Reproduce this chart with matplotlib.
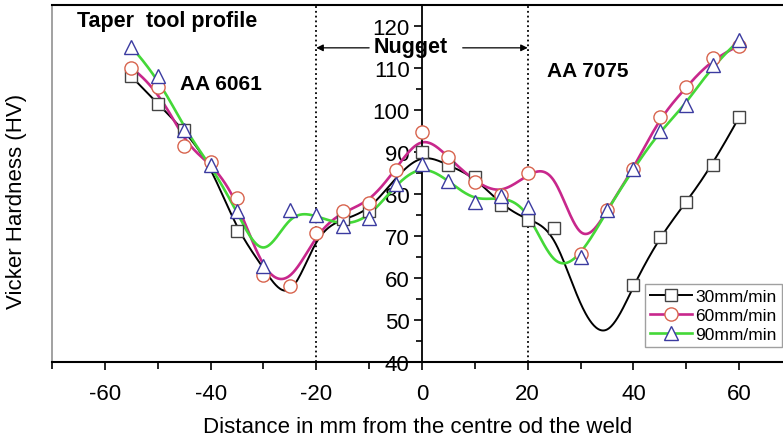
import numpy as np
import matplotlib
matplotlib.use("Agg")
import matplotlib.pyplot as plt
from matplotlib.lines import Line2D

plt.rcParams['font.family'] = ['Liberation Sans', 'DejaVu Sans']

# ---- data ----
distance = [-55, -50, -45, -40, -35, -30, -25, -20, -15, -10, -5, 0,
            5, 10, 15, 20, 25, 30, 35, 40, 45, 50, 55, 60]
hv_30 = [108.0, 101.5, 95.3, 87.0, 71.2, 62.5, 52.6, 71.0, 74.0, 75.9, 84.0, 89.9,
         86.8, 84.1, 77.3, 73.8, 71.8, 52.0, 44.0, 58.4, 69.8, 78.1, 86.9, 98.3]
hv_60 = [110.0, 105.4, 91.5, 87.6, 79.0, 60.7, 58.0, 70.8, 75.9, 77.9, 85.8, 94.8,
         88.7, 82.9, 79.7, 84.9, 87.0, 65.7, 76.1, 86.0, 98.3, 105.4, 112.4, 115.3]
hv_90 = [115.0, 108.0, 95.3, 86.9, 75.9, 62.9, 76.1, 74.9, 72.4, 74.2, 82.3, 87.2,
         83.2, 78.1, 79.5, 77.0, 61.3, 64.9, 76.1, 86.0, 95.0, 101.3, 110.7, 116.6]
# points whose symbols are not shown in the original figure
hidden_30 = [-40, -30, -25, -20, -5, 30, 35]
hidden_60 = [25]
hidden_90 = [25]
labels = ['30mm/min', '60mm/min', '90mm/min']
x_ticks = [-60, -40, -20, 0, 20, 40, 60]
y_ticks = [40, 50, 60, 70, 80, 90, 100, 110, 120]


def bspline(px, py, k=3, num=800):
    px = np.asarray(px, float)
    py = np.asarray(py, float)
    n = len(px)
    m = n - k
    knots = np.concatenate([np.zeros(k), np.arange(m + 1), np.full(k, m)]).astype(float)
    u = np.linspace(0, m, num)
    u[-1] = m - 1e-9
    N = np.zeros((num, len(knots) - 1))
    for i in range(len(knots) - 1):
        N[:, i] = ((knots[i] <= u) & (u < knots[i + 1])).astype(float)
    for d in range(1, k + 1):
        Nn = np.zeros((num, len(knots) - 1 - d))
        for i in range(len(knots) - 1 - d):
            a = 0.0
            b = 0.0
            den1 = knots[i + d] - knots[i]
            if den1 > 0:
                a = (u - knots[i]) / den1 * N[:, i]
            den2 = knots[i + d + 1] - knots[i + 1]
            if den2 > 0:
                b = (knots[i + d + 1] - u) / den2 * N[:, i + 1]
            Nn[:, i] = a + b
        N = Nn
    return N @ px, N @ py


fig = plt.figure(figsize=(7.83, 4.39), dpi=100)
ax = fig.add_axes([52 / 783, 76 / 439, 740 / 783, 357 / 439])
ax.set_xlim(-70, 70)
ax.set_ylim(40, 125)

series = [
    (hv_30, hidden_30, '#000000', 1.4, 's', '#444444', 9),
    (hv_60, hidden_60, '#c8278c', 1.9, 'o', '#d8644e', 9.5),
    (hv_90, hidden_90, '#44d838', 1.9, '^', '#3b3ba0', 10),
]

for vals, hid, lc, lw, mk, mc, ms in series:
    cx, cy = bspline(distance, vals)
    ax.plot(cx, cy, color=lc, lw=lw, zorder=2)
for vals, hid, lc, lw, mk, mc, ms in series:
    vis = [i for i, d in enumerate(distance) if d not in hid]
    ax.plot(distance, vals, ls='none', marker=mk, ms=ms, mfc='white', mec=mc,
            mew=1.0, markevery=vis, zorder=3)

# boundaries of the nugget
for xv in (-20, 20):
    ax.plot([xv, xv], [40, 125], color='black', ls=':', lw=1.3, zorder=1)

# spines
ax.spines['left'].set_position(('data', 0))
ax.spines['left'].set_linewidth(1.3)
ax.spines['right'].set_visible(False)
ax.spines['top'].set_linewidth(1.5)
ax.spines['bottom'].set_linewidth(1.5)
ax.plot([-70, -70], [40, 125], color='#9a9a9a', lw=1.3, clip_on=False, zorder=1)

ax.set_xticks(x_ticks)
ax.set_xticks([-70, -50, -30, -10, 10, 30, 50, 70], minor=True)
ax.set_yticks(y_ticks)
ax.set_yticks([45, 55, 65, 75, 85, 95, 105, 115], minor=True)
ax.tick_params(axis='x', which='major', direction='out', length=6, width=1.2,
               labelsize=16, pad=9)
ax.tick_params(axis='x', which='minor', direction='out', length=5, width=1.2)
ax.tick_params(axis='y', which='major', direction='out', length=6, width=1.2,
               labelsize=16, pad=3)
ax.tick_params(axis='y', which='minor', direction='out', length=4, width=1.2)
ax.set_xticklabels([str(v) for v in x_ticks])
ax.set_yticklabels([str(v) for v in y_ticks])

# annotations
ax.text(-65.3, 121.2, 'Taper  tool profile', fontsize=15.5, fontweight='bold',
        ha='left', va='center')
ax.text(-45.8, 106.2, 'AA 6061', fontsize=15, fontweight='bold', ha='left', va='center')
ax.text(23.6, 109.3, 'AA 7075', fontsize=15, fontweight='bold', ha='left', va='center')
ax.text(-2.2, 115.2, 'Nugget', fontsize=15.5, fontweight='bold', ha='center', va='center')
ax.annotate('', xy=(-20, 114.8), xytext=(-10, 114.8),
            arrowprops=dict(arrowstyle='-|>', color='black', lw=0.9,
                            mutation_scale=10, shrinkA=0, shrinkB=0))
ax.annotate('', xy=(20, 114.8), xytext=(7.7, 114.8),
            arrowprops=dict(arrowstyle='-|>', color='black', lw=0.9,
                            mutation_scale=10, shrinkA=0, shrinkB=0))

# legend
handles = []
for (vals, hid, lc, lw, mk, mc, ms), lab in zip(series, labels):
    handles.append(Line2D([0], [0], color=lc, lw=lw, marker=mk, ms=ms,
                          mfc='white', mec=mc, mew=1.0))
leg = fig.legend(handles, labels, loc='upper left',
                 bbox_to_anchor=(645 / 783, 1 - 285 / 439),
                 bbox_transform=fig.transFigure, fontsize=12.5, frameon=True,
                 fancybox=False, borderpad=0.3, handlelength=2.4,
                 handletextpad=0.2, labelspacing=0.2, borderaxespad=0)
leg.get_frame().set_edgecolor('#888888')
leg.get_frame().set_linewidth(1.0)

fig.text(418 / 783, 1 - 428 / 439, 'Distance in mm from the centre od the weld',
         fontsize=16, ha='center', va='center')
fig.text(17 / 783, 1 - 201.5 / 439, 'Vicker Hardness (HV)', fontsize=16,
         rotation=90, ha='center', va='center')

fig.savefig('out.png', dpi=100)
